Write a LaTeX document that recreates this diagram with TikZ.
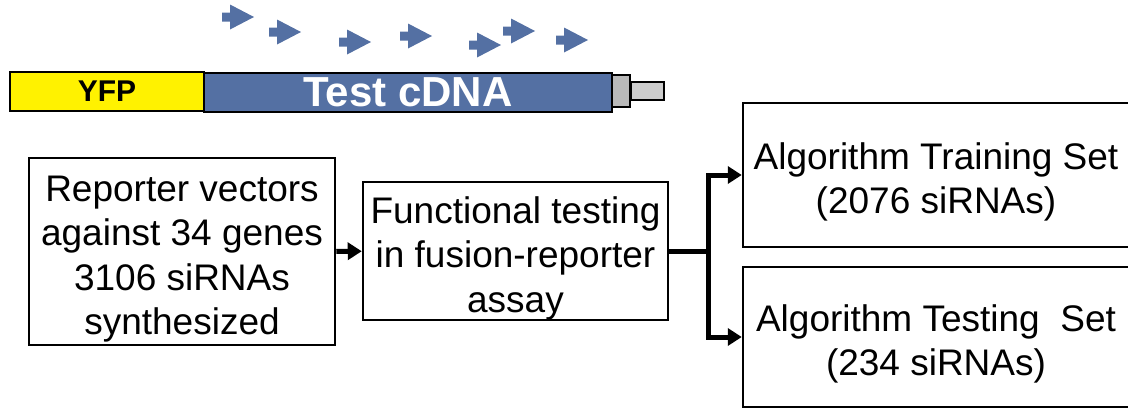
\documentclass[tikz,border=0pt]{standalone}
\usepackage{fontspec}
\setmainfont{Liberation Sans}
\usetikzlibrary{arrows.meta}
\definecolor{cdnablue}{RGB}{84,112,163}
\newcommand{\topstrut}{\rule{0pt}{41pt}}

\begin{document}
\begin{tikzpicture}[x=1pt, y=-1pt, line width=2.5pt,
    box/.style={draw, align=center, inner sep=0pt, font=\fontsize{37}{44.5}\selectfont},
    part/.style={draw, line width=2pt, inner sep=0pt},
    flow/.style={line width=5pt, -{Triangle[length=14pt,width=17pt]}}]
  \useasboundingbox (0,0) rectangle (1128,410);
  \clip (0,0) rectangle (1128,410);
  %peptides
  \foreach \x/\y in {222/17, 269/32, 339/42, 400/36, 469/45, 503/31, 556/40}
    \fill[cdnablue] (\x,\y) ++(0,-4.5) -- ++(8,0) -- ++(0,-8) -- ++(24,12.5) -- ++(-24,12.5) -- ++(0,-8) -- ++(-8,0) -- cycle;
  %construct
  \node[part, fill=yellow, minimum width=194pt, minimum height=39pt, font=\bfseries\fontsize{30}{30}\selectfont] at (107,91.5) (yfp) {YFP};
  \node[part, fill=cdnablue, text=white, minimum width=408pt, minimum height=39pt, font=\bfseries\fontsize{42}{42}\selectfont] at (408,92.5) (cdna) {Test cDNA};
  \node[part, fill=gray!55, minimum width=18pt, minimum height=32pt] at (621,91) (cap) {};
  \node[part, fill=gray!40, minimum width=33pt, minimum height=18pt] at (647,91) (tail) {};
  %nodes
  \node[box, minimum width=306pt, minimum height=187pt] at (182,251.5) (reporter) {\topstrut Reporter vectors\\against 34 genes\\3106 siRNAs\\synthesized};
  \node[box, minimum width=305pt, minimum height=138pt] at (515.5,251) (assay) {\topstrut Functional testing\\in fusion-reporter\\assay};
  \node[box, minimum width=386pt, minimum height=144pt] at (936,175) (training) {\topstrut Algorithm Training Set\\(2076 siRNAs)};
  \node[box, minimum width=386pt, minimum height=140pt] at (936,337) (testing) {\topstrut Algorithm Testing\ \ Set\\(234 siRNAs)};
  \coordinate (split) at (708,251);
  \draw[flow] (reporter) -- (assay);
  \draw[line width=5pt] (assay.east) -- (split);
  \draw[flow] (split) |- (training.west);
  \draw[flow] (split) |- (testing.west);
\end{tikzpicture}
\end{document}
